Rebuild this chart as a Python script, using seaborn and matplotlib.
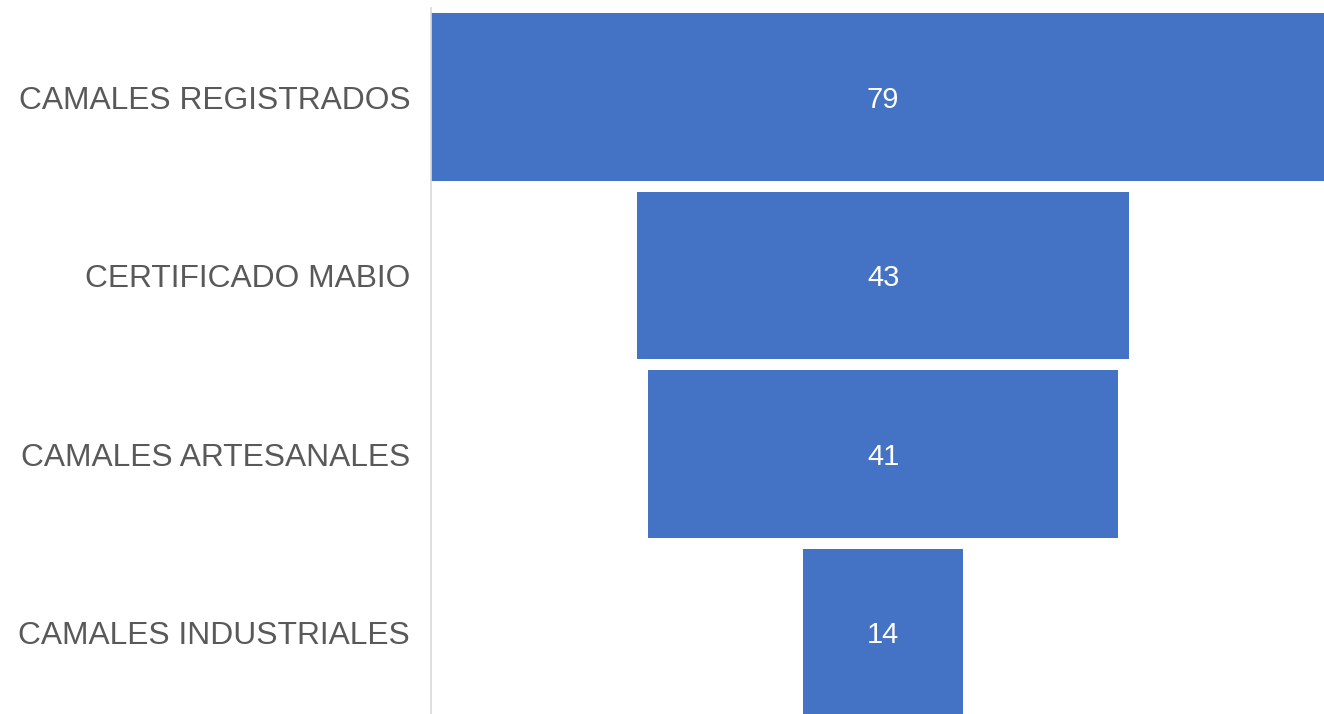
"""
Funnel chart of slaughterhouse (camales) counts.
"""

import matplotlib
matplotlib.use('Agg')
import matplotlib.pyplot as plt
import seaborn as sns
import pandas as pd

# Data
categories = ['CAMALES REGISTRADOS', 'CERTIFICADO MABIO',
              'CAMALES ARTESANALES', 'CAMALES INDUSTRIALES']
values = [79, 43, 41, 14]

df = pd.DataFrame({'categoria': categories, 'valor': values})

sns.set_theme(style='white')
plt.rcParams['font.family'] = ['Liberation Sans', 'DejaVu Sans']

fig = plt.figure(figsize=(13.24, 7.14), dpi=100)
# widest bar runs a little past the right edge, like the original
ax = fig.add_axes([0.3255, -0.011, 0.683, 1.0])

bar_height = 0.94
sns.barplot(data=df, x='valor', y='categoria', color='#4472C4',
            saturation=1, width=bar_height, ax=ax, orient='h')

# Center each bar to get the funnel shape
top = max(values)
for patch, v in zip(ax.patches, values):
    patch.set_x((top - v) / 2)
    patch.set_edgecolor('none')
    cx = patch.get_x() + patch.get_width() / 2
    cy = patch.get_y() + patch.get_height() / 2
    ax.text(cx, cy + 0.015, str(v), color='white', fontsize=21,
            ha='center', va='center')

ax.set_xlim(0, top)
ax.set_ylim(3.5, -0.5)
ax.set_xlabel('')
ax.set_ylabel('')
ax.set_xticks([])
ax.tick_params(axis='y', length=0, pad=15, labelsize=22.9, labelcolor='#595959')

for side in ['top', 'right', 'bottom']:
    ax.spines[side].set_visible(False)
ax.spines['left'].set_color('#d9d9d9')
ax.spines['left'].set_linewidth(1.2)

plt.savefig('out.png', dpi=100)
plt.close()
